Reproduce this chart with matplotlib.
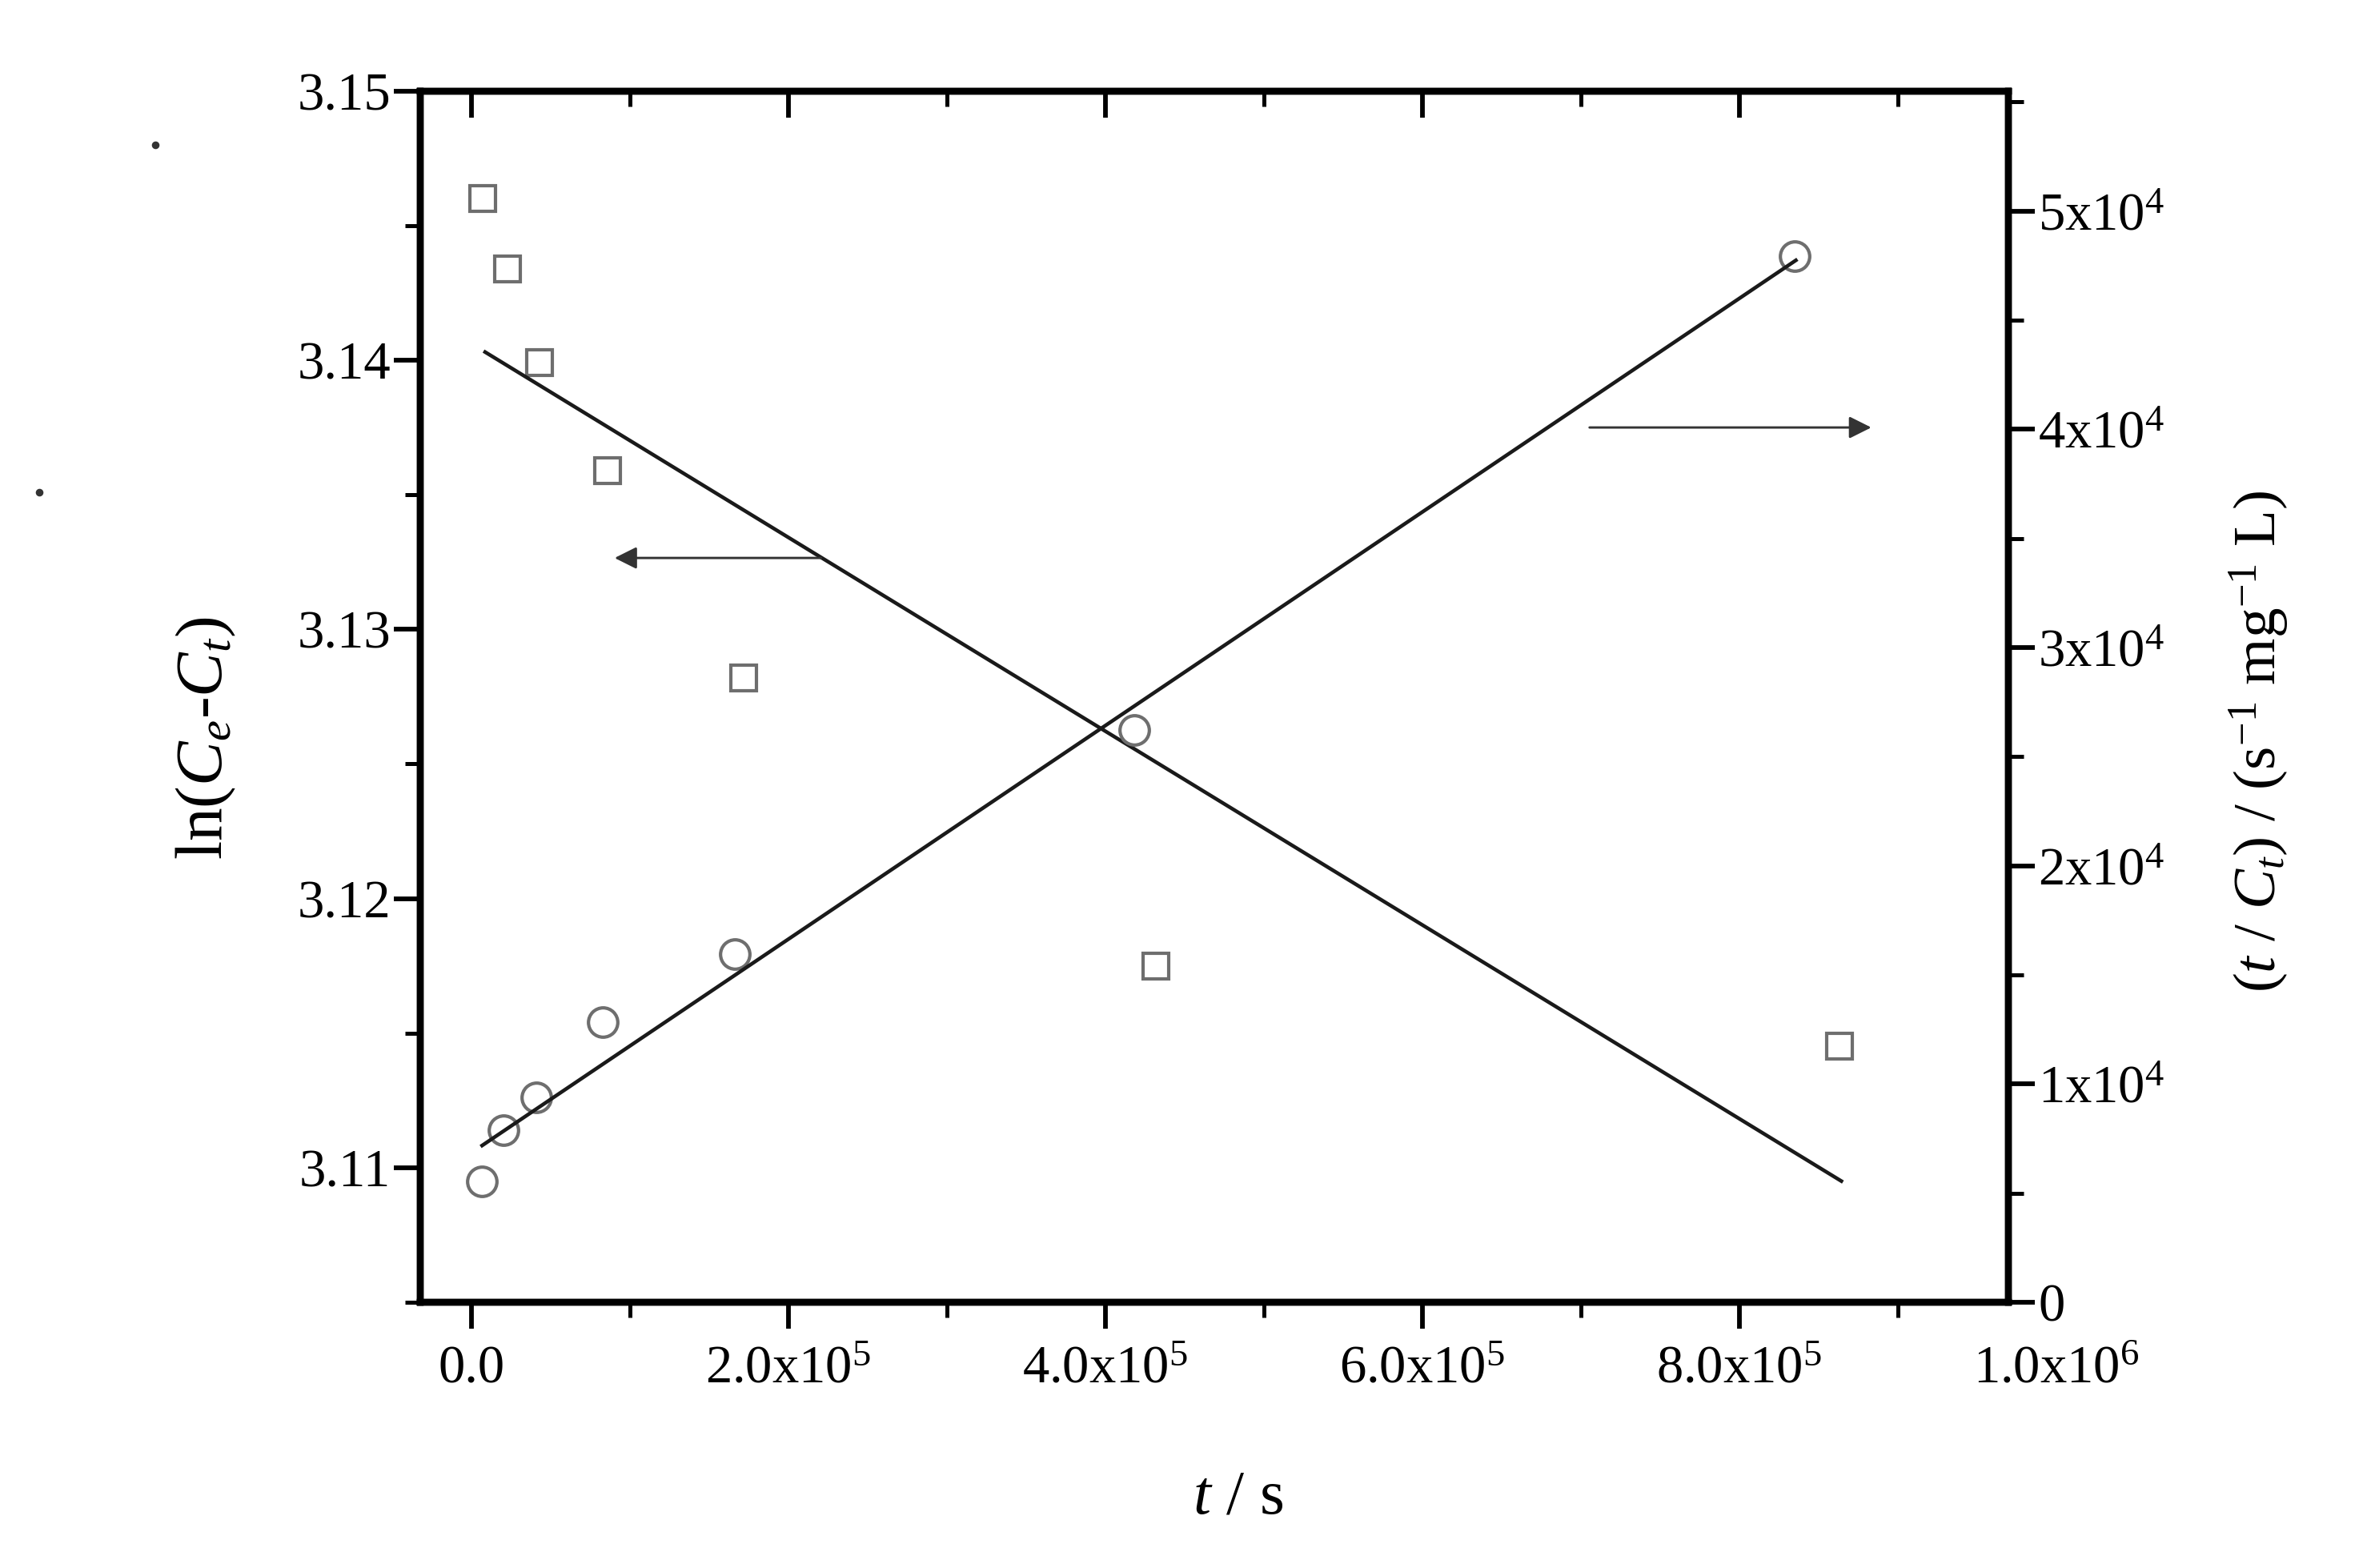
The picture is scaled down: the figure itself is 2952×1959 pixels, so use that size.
import matplotlib
matplotlib.use("Agg")
import matplotlib.pyplot as plt
from matplotlib.ticker import MultipleLocator, FixedLocator
from matplotlib.transforms import offset_copy

plt.rcParams["font.family"] = "Liberation Serif"
plt.rcParams["mathtext.fontset"] = "custom"
plt.rcParams["mathtext.rm"] = "Liberation Serif"
plt.rcParams["mathtext.it"] = "Liberation Serif:italic"

# ln(Ce-Ct) vs t (squares, left axis)
t_ln = [7200, 23000, 43000, 86000, 172000, 432000, 863500]
ln_c = [3.1460, 3.1434, 3.1399, 3.1359, 3.1282, 3.1175, 3.1145]
fit_ln_t = [8700, 864500]
fit_ln_y = [3.1403, 3.1095]

# t/Ct vs t (circles, right axis)
t_tc = [6500, 20100, 41000, 82800, 166500, 418500, 835000]
t_over_c = [5530, 7870, 9390, 12840, 15940, 26220, 47940]
fit_tc_t = [6800, 835800]
fit_tc_y = [7180, 47740]

x_ticks = [0, 2e5, 4e5, 6e5, 8e5]
x_labels = ["0.0", r"2.0x10$^{5}$", r"4.0x10$^{5}$", r"6.0x10$^{5}$", r"8.0x10$^{5}$"]
y1_ticks = [3.11, 3.12, 3.13, 3.14, 3.15]
y1_labels = ["3.11", "3.12", "3.13", "3.14", "3.15"]
y2_ticks = [0, 1e4, 2e4, 3e4, 4e4, 5e4]
y2_labels = ["0"] + [r"%dx10$^{4}$" % i for i in range(1, 6)]

fs_tick = 16
maj_len, min_len = 7.9, 4.5
xpad = 5

fig = plt.figure(figsize=(9.84, 6.53), dpi=300)
ax = fig.add_axes([0.178, 0.1695, 0.672, 0.7725])
ax2 = ax.twinx()
ax3 = ax.twiny()

ax.plot(t_ln, ln_c, linestyle="none", marker="s", markersize=7.5,
        markerfacecolor="none", markeredgecolor="#6e6e6e", markeredgewidth=1.0)
ax.plot(fit_ln_t, fit_ln_y, color="#1a1a1a", lw=1.1)
ax2.plot(t_tc, t_over_c, linestyle="none", marker="o", markersize=8.8,
         markerfacecolor="none", markeredgecolor="#6e6e6e", markeredgewidth=1.0)
ax2.plot(fit_tc_t, fit_tc_y, color="#1a1a1a", lw=1.1)

# arrows pointing to the relevant axis
ax.annotate("", xy=(90400, 3.13265), xytext=(220700, 3.13265),
            arrowprops=dict(arrowstyle="-|>", color="#333333", lw=0.7,
                            mutation_scale=14, shrinkA=0, shrinkB=0))
ax2.annotate("", xy=(883400, 40080), xytext=(705600, 40080),
             arrowprops=dict(arrowstyle="-|>", color="#333333", lw=0.7,
                             mutation_scale=14, shrinkA=0, shrinkB=0))

xlim = (-3.2e4, 9.7e5)
ax.set_xlim(xlim)
ax3.set_xlim(xlim)
ax.set_ylim(3.105, 3.15)
ax2.set_ylim(0, 5.55e4)

ax.set_xticks(x_ticks)
ax.set_xticklabels(x_labels, fontsize=fs_tick)
ax.xaxis.set_minor_locator(FixedLocator([1e5, 3e5, 5e5, 7e5, 9e5]))
ax.set_yticks(y1_ticks)
ax.set_yticklabels(y1_labels, fontsize=fs_tick)
ax.yaxis.set_minor_locator(MultipleLocator(0.005))
ax2.set_yticks(y2_ticks)
ax2.set_yticklabels(y2_labels, fontsize=fs_tick)
ax2.yaxis.set_minor_locator(MultipleLocator(5000))
ax3.set_xticks(x_ticks)
ax3.xaxis.set_minor_locator(FixedLocator([1e5, 3e5, 5e5, 7e5, 9e5]))
ax3.set_xticklabels([])

ax.tick_params(axis="x", which="major", direction="out", length=maj_len, width=1.4, pad=xpad)
ax.tick_params(axis="x", which="minor", direction="out", length=min_len, width=1.2)
ax.tick_params(axis="y", which="major", direction="out", length=maj_len, width=1.4, pad=1)
ax.tick_params(axis="y", which="minor", direction="out", length=min_len, width=1.2)
ax2.tick_params(axis="y", which="major", direction="out", length=maj_len, width=1.4, pad=1)
ax2.tick_params(axis="y", which="minor", direction="out", length=min_len, width=1.2)
ax3.tick_params(axis="x", which="major", direction="in", length=maj_len, width=1.4)
ax3.tick_params(axis="x", which="minor", direction="in", length=min_len, width=1.2)

for a in (ax, ax2, ax3):
    for s in a.spines.values():
        s.set_linewidth(2.0)

# label for 1.0x10^6, which lies past the right edge of the axis
trans = offset_copy(ax.get_xaxis_transform(), fig=fig, x=0, y=-(maj_len + xpad), units="points")
ax.text(1e6, 0, r"1.0x10$^{6}$", transform=trans, ha="center", va="top",
        fontsize=fs_tick, clip_on=False)

ax.set_xlabel(r"$t$ / s", fontsize=19)
ax.xaxis.set_label_coords(0.515, -0.138)
ax.set_ylabel(r"ln($C_e$-$C_t$)", fontsize=20)
ax.yaxis.set_label_coords(-0.115, 0.466)
ax2.set_ylabel(r"($t$ / $C_t$) / (s$^{-1}$ mg$^{-1}$ L)", fontsize=18, rotation=90)
ax2.yaxis.set_label_coords(1.1376, 0.463)

# two stray specks in the scanned figure
for fx, fy in [(0.0657, 0.9078), (0.0166, 0.686)]:
    fig.add_artist(plt.Line2D([fx], [fy], marker="o", markersize=1.3,
                              color="#333333", transform=fig.transFigure))

fig.savefig("out.png", dpi=300)
